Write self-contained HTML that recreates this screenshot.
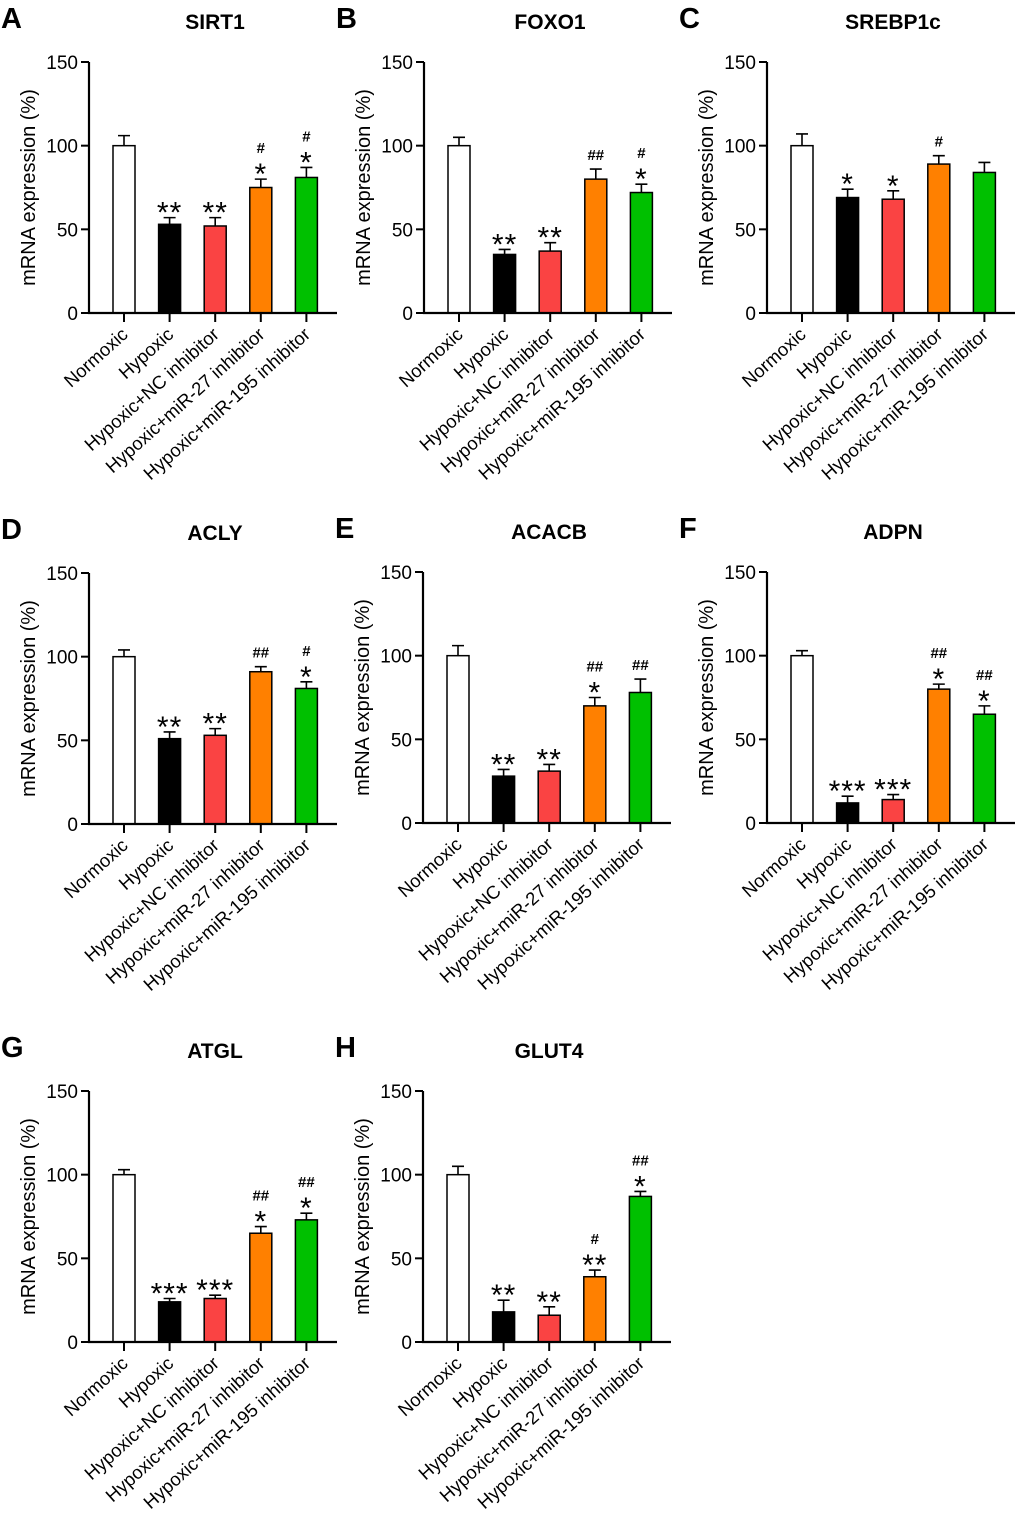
<!DOCTYPE html>
<html><head><meta charset="utf-8">
<style>
html,body{margin:0;padding:0;background:#fff;}
svg{display:block;font-family:"Liberation Sans",Arial,sans-serif;}
</style></head>
<body>
<svg id="fig" width="1020" height="1527" viewBox="0 0 1020 1527"></svg>
<script>
const categories = ["Normoxic","Hypoxic","Hypoxic+NC inhibitor","Hypoxic+miR-27 inhibitor","Hypoxic+miR-195 inhibitor"];
const colors = ["#ffffff","#000000","#fa4343","#ff8000","#00c000"];
const yTicks = [0,50,100,150];
const panelTitles = ["SIRT1","FOXO1","SREBP1c","ACLY","ACACB","ADPN","ATGL","GLUT4"];
const panelLetters = ["A","B","C","D","E","F","G","H"];
const sirt1Values = [100,53,52,75,81];
const sirt1Errors = [6,4,5,5,6];
const sirt1Marks = ["","**","**","#|*","#|*"];
const foxo1Values = [100,35,37,80,72];
const foxo1Errors = [5,3,5,6,5];
const foxo1Marks = ["","**","**","##|","#|*"];
const srebpValues = [100,69,68,89,84];
const srebpErrors = [7,5,5,5,6];
const srebpMarks = ["","*","*","#|",""];
const aclyValues = [100,51,53,91,81];
const aclyErrors = [4,4,4,3,4];
const aclyMarks = ["","**","**","##|","#|*"];
const acacbValues = [100,28,31,70,78];
const acacbErrors = [6,4,4,5,8];
const acacbMarks = ["","**","**","##|*","##|"];
const adpnValues = [100,12,14,80,65];
const adpnErrors = [3,4,3,3,5];
const adpnMarks = ["","***","***","##|*","##|*"];
const atglValues = [100,24,26,65,73];
const atglErrors = [3,2,2,4,4];
const atglMarks = ["","***","***","##|*","##|*"];
const glut4Values = [100,18,16,39,87];
const glut4Errors = [5,7,5,4,3];
const glut4Marks = ["","**","**","#|**","##|*"];

const values=[sirt1Values,foxo1Values,srebpValues,aclyValues,acacbValues,adpnValues,atglValues,glut4Values];
const errors=[sirt1Errors,foxo1Errors,srebpErrors,aclyErrors,acacbErrors,adpnErrors,atglErrors,glut4Errors];
const marks=[sirt1Marks,foxo1Marks,srebpMarks,aclyMarks,acacbMarks,adpnMarks,atglMarks,glut4Marks];
const origins=[[89,313],[424,313],[767,313],[89,824],[423,823],[767,823],[89,1342],[423,1342]];

const NS="http://www.w3.org/2000/svg";
const svg=document.getElementById('fig');
function mk(tag,attrs,parent,text){const e=document.createElementNS(NS,tag);for(const k in attrs)e.setAttribute(k,attrs[k]);if(text!==undefined)e.textContent=text;(parent||svg).appendChild(e);return e;}

for(let p=0;p<8;p++){
  const [ax,y0]=origins[p];
  const g=mk('g',{});
  
  
  const yS=v=>y0-v*251/150;
  const xS=i=>ax+35+i*45.6;
  const L=mk('text',{x:ax-88,y:y0-285,'font-size':29,'font-weight':'bold'},g,panelLetters[p]);
  
  
  const T=mk('text',{x:ax+126,y:y0-284,'font-size':21,'font-weight':'bold','text-anchor':'middle'},g,panelTitles[p]);
  
  
  const YT=mk('text',{transform:`translate(${ax-54},${yS(75)}) rotate(-90)`,'font-size':20,'text-anchor':'middle'},g,'mRNA expression (%)');
  
  
  for(let i=0;i<5;i++){
    const cx=xS(i),v=values[p][i],e=errors[p][i];
    const eb=mk('path',{d:`M${cx} ${yS(v)}V${yS(v+e)}M${cx-6} ${yS(v+e)}H${cx+6}`,stroke:'#000','stroke-width':1.6,fill:'none'},g);
    
    
    const b=mk('rect',{x:cx-11,y:yS(v),width:22,height:y0-yS(v),fill:colors[i],stroke:'#000','stroke-width':1.5},g);
    
    
    const parts=marks[p][i].split('|');
    let hash='',star='';
    if(parts.length===2){hash=parts[0];star=parts[1];}else star=parts[0];
    let top=yS(v+e)-9;
    if(star){const s=mk('text',{x:cx,y:top+14,'font-size':30,'text-anchor':'middle','letter-spacing':'1'},g,star);
      
      
      top-=17;}
    if(hash){const h=mk('text',{x:cx,y:top,'font-size':15,'font-weight':'bold','text-anchor':'middle'},g,hash);
      
      }
    const tk=mk('line',{x1:cx,x2:cx,y1:y0,y2:y0+9,stroke:'#000','stroke-width':2},g);
    
    
    const lb=mk('text',{transform:`translate(${cx+5},${y0+23}) rotate(-42)`,'font-size':18.5,'text-anchor':'end'},g,categories[i]);
    
    
  }
  const axes=mk('path',{d:`M${ax} ${yS(150)}V${y0}H${ax+248}`,stroke:'#000','stroke-width':2.2,fill:'none'},g);
  
  
  for(const t of yTicks){
    const tl=mk('line',{x1:ax-8,x2:ax,y1:yS(t),y2:yS(t),stroke:'#000','stroke-width':2},g);
    
    
    const tt=mk('text',{x:ax-11,y:yS(t)+7,'font-size':19,'text-anchor':'end'},g,String(t));
    
    
  }
}
</script>
</body></html>
